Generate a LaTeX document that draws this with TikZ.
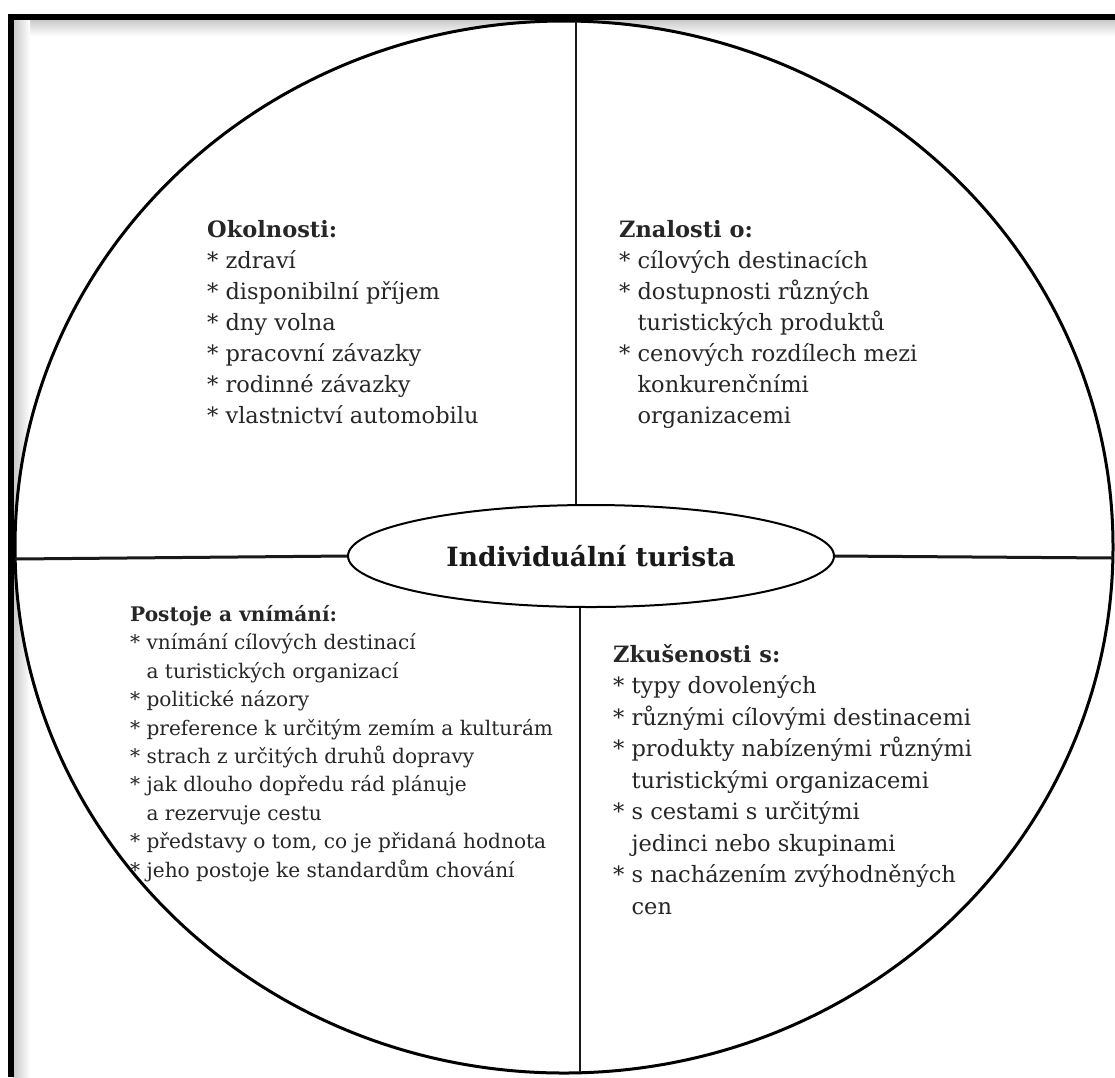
\documentclass[tikz,border=0pt]{standalone}
\usepackage{fontspec}
\setmainfont{DejaVu Serif}
\usetikzlibrary{shapes.geometric}
\begin{document}
\begin{tikzpicture}[x=1pt,y=-1pt,
  frameline/.style={line width=6pt,black},
  divline/.style={line width=2.4pt,black!90},
  blocktext/.style={anchor=base west,align=left,inner sep=0pt,text=black!85},
  bigfont/.style={font=\fontsize{22.5}{31}\selectfont},
  smallfont/.style={font=\fontsize{20.1}{28.4}\selectfont},
  hub/.style={ellipse,draw=black,line width=2pt,minimum width=486pt,minimum height=102pt,inner sep=0pt,fill=white,
    font=\bfseries\fontsize{26.5}{30}\selectfont,text=black!90}]
\useasboundingbox (0,0) rectangle (1115,1077);
\fill[white] (0,0) rectangle (1115,1077);
% soft shadow inside the frame
\shade[top color=black!22,bottom color=white] (13,19) rectangle (1115,36);
\shade[left color=black!22,right color=white] (13,19) rectangle (30,1077);
% frame
\draw[frameline] (8,16.5) -- (1115,16.5);
\draw[frameline] (10.5,13.5) -- (10.5,1077);
% big ellipse
\draw[line width=3pt,fill=white] (564,547) ellipse [x radius=549pt,y radius=526pt];
% coordinates
\coordinate (top) at (576,21);
\coordinate (bot) at (580,1072);
\coordinate (lft) at (15,559);
\coordinate (rgt) at (1113,558);
% hub
\node[hub] (hubn) at (591,556) {Individuální turista};
% dividers
\draw[divline] (top) -- (top |- hubn.north);
\draw[divline] (bot |- hubn.south) -- (bot);
\draw[divline,line width=3pt] (lft) -- (hubn.west);
\draw[divline,line width=3pt] (hubn.east) -- (rgt);
% text blocks (anchored at the baseline of their last line)
\node[blocktext,bigfont] (okol) at (207,423) {\textbf{Okolnosti:}\\
* zdraví\\
* disponibilní příjem\\
* dny volna\\
* pracovní závazky\\
* rodinné závazky\\
* vlastnictví automobilu};
\node[blocktext,bigfont] (znal) at (619,423) {\textbf{Znalosti o:}\\
* cílových destinacích\\
* dostupnosti různých\\
\phantom{*~}turistických produktů\\
* cenových rozdílech mezi\\
\phantom{*~}konkurenčními\\
\phantom{*~}organizacemi};
\node[blocktext,smallfont] (post) at (130,877) {\textbf{Postoje a vnímání:}\\
* vnímání cílových destinací\\
\phantom{*~}a turistických organizací\\
* politické názory\\
* preference k určitým zemím a kulturám\\
* strach z určitých druhů dopravy\\
* jak dlouho dopředu rád plánuje\\
\phantom{*~}a rezervuje cestu\\
* představy o tom, co je přidaná hodnota\\
* jeho postoje ke standardům chování};
\node[blocktext,font=\fontsize{22.5}{31.5}\selectfont] (zkus) at (613,914) {\textbf{Zkušenosti s:}\\
* typy dovolených\\
* různými cílovými destinacemi\\
* produkty nabízenými různými\\
\phantom{*~}turistickými organizacemi\\
* s cestami s určitými\\
\phantom{*~}jedinci nebo skupinami\\
* s nacházením zvýhodněných\\
\phantom{*~}cen};
\end{tikzpicture}
\end{document}
